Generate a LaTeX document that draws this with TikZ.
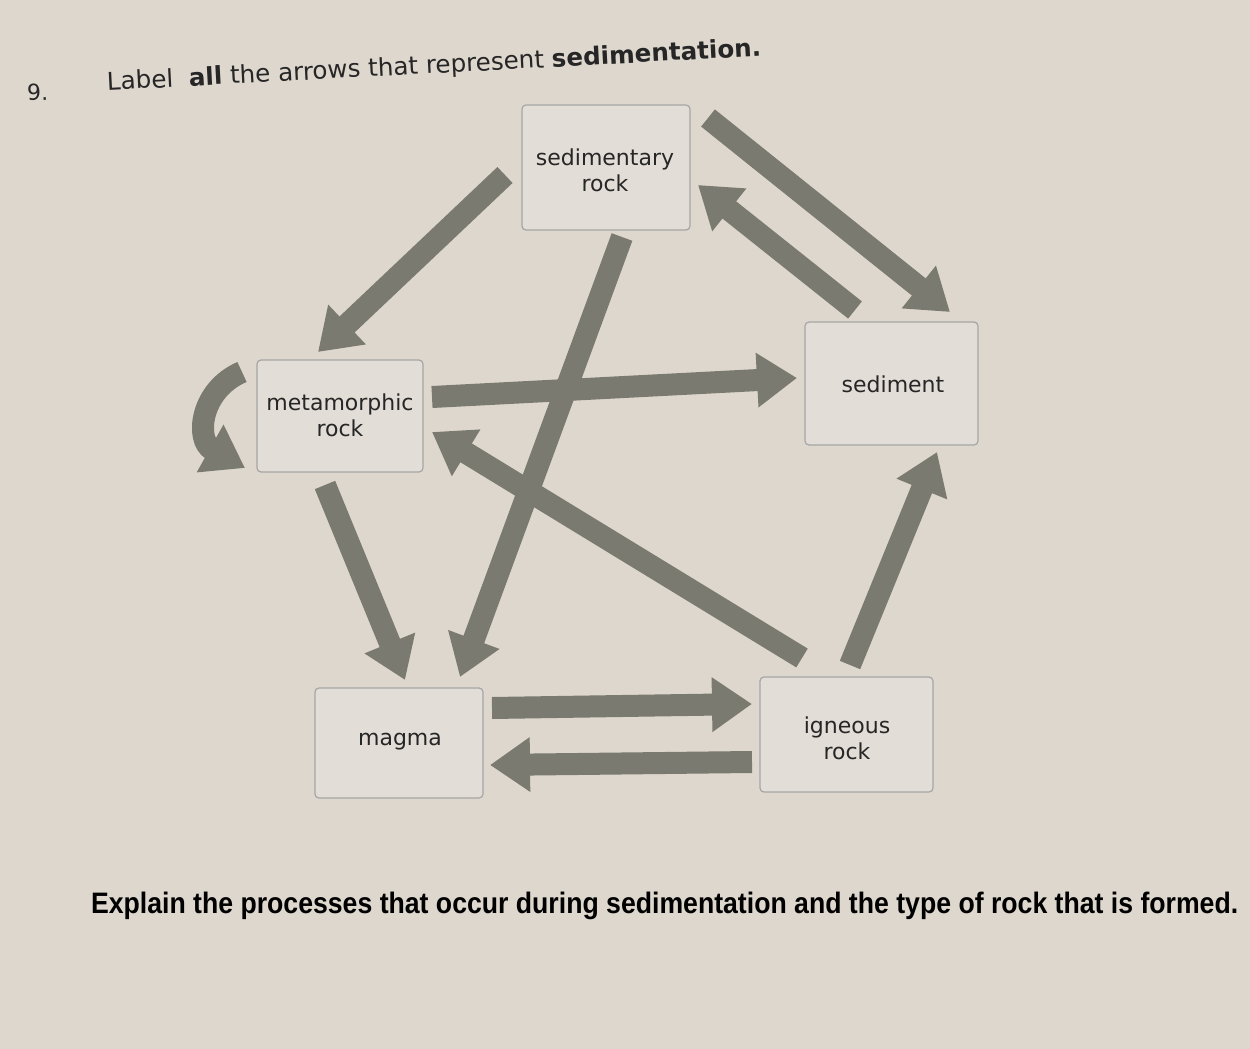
\documentclass[tikz,border=0pt]{standalone}
\usepackage{fontspec}
\setmainfont{DejaVu Sans}
\newfontfamily\headfont{Liberation Sans}
\usetikzlibrary{arrows.meta}
\definecolor{paper}{RGB}{222,215,206}
\definecolor{boxfill}{RGB}{226,221,214}
\definecolor{arrowgray}{RGB}{122,122,112}
\begin{document}
\begin{tikzpicture}[x=0.5pt,y=-0.5pt,
    stage/.style={draw=gray!70, fill=boxfill, rounded corners=2pt, line width=0.6pt},
    lbl/.style={font=\fontsize{11}{13}\selectfont, align=center, text=black!85},
    fat/.style={draw=arrowgray, line width=11pt,
      -{Triangle[width=26pt,length=20pt]}, shorten >=0pt}]
    % page
    \fill[paper] (0,0) rectangle (1250,1049);
    \useasboundingbox (0,0) rectangle (1250,1049);
    % question
    \node[lbl, anchor=west, rotate=2] (qnum) at (20,93) {9.};
    \node[lbl, anchor=west, rotate=3, font=\fontsize{12.3}{14}\selectfont] (qtext) at (100,84)
      {Label \ \textbf{all} the arrows that represent \textbf{sedimentation.}};
    % boxes
    \draw[stage] (522,105) rectangle (690,230);
    \node[lbl] (sedrock) at (605,170) {sedimentary\\rock};
    \draw[stage] (805,322) rectangle (978,445);
    \node[lbl] (sediment) at (893,384) {sediment};
    \draw[stage] (257,360) rectangle (423,472);
    \node[lbl] (meta) at (340,415) {metamorphic\\rock};
    \draw[stage] (315,688) rectangle (483,798);
    \node[lbl] (magma) at (400,742) {magma};
    \draw[stage] (760,677) rectangle (933,792);
    \node[lbl] (igneous) at (847,738) {igneous\\rock};
    % arrow end points
    \coordinate (a1) at (505,175); \coordinate (b1) at (318,352);
    \coordinate (a2) at (708,118); \coordinate (b2) at (950,312);
    \coordinate (a3) at (855,310); \coordinate (b3) at (698,185);
    \coordinate (a4) at (432,397); \coordinate (b4) at (797,378);
    \coordinate (a5) at (622,237); \coordinate (b5) at (460,677);
    \coordinate (a6) at (802,658); \coordinate (b6) at (432,432);
    \coordinate (a7) at (850,665); \coordinate (b7) at (937,452);
    \coordinate (a8) at (325,485); \coordinate (b8) at (405,680);
    \coordinate (a9) at (492,708); \coordinate (b9) at (752,704);
    \coordinate (a10) at (752,762); \coordinate (b10) at (490,765);
    % arrows
    \foreach \i in {1,...,10} \draw[fat] (a\i) -- (b\i);
    \coordinate (c1) at (242,372); \coordinate (d1) at (245,468);
    \draw[fat] (c1) .. controls (200,390) and (195,440) .. (d1);
    % bottom prompt
    \node[anchor=west, font=\headfont\bfseries\fontsize{14.8}{17}\selectfont] (explain) at (84,906)
      {\addfontfeature{FakeStretch=0.9}Explain the processes that occur during sedimentation and the type of rock that is formed.};
\end{tikzpicture}
\end{document}
